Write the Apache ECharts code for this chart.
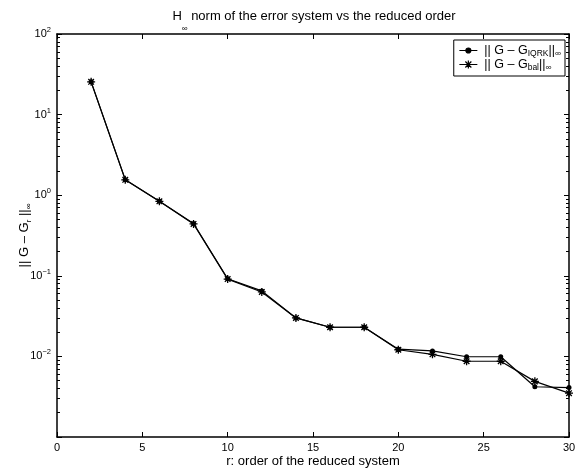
<!DOCTYPE html>
<html>
<head>
<meta charset="utf-8">
<script src="https://cdn.jsdelivr.net/npm/echarts@6/dist/echarts.min.js"></script>
<style>
html, body { margin: 0; padding: 0; background: #fff; }
#main { width: 579px; height: 470px; }
</style>
</head>
<body>
<div id="main"></div>
<script>
// reduced orders r
var orders = [2, 4, 6, 8, 10, 12, 14, 16, 18, 20, 22, 24, 26, 28, 30];
// ||G - G_IQRK||_inf
var normIQRK = [25.5, 1.56, 0.84, 0.445, 0.092, 0.065, 0.030, 0.023, 0.023, 0.0123, 0.0117, 0.0099, 0.0099, 0.0042, 0.0041];
// ||G - G_bal||_inf
var normBal = [25.5, 1.55, 0.84, 0.44, 0.091, 0.063, 0.030, 0.023, 0.023, 0.0121, 0.0106, 0.0087, 0.0087, 0.0049, 0.0035];

var decades = [0.001, 0.01, 0.1, 1, 10, 100];
var decadeLabels = [0.01, 0.1, 1, 10, 100];

// minor ticks 2..9 x 10^k
var minorTicks = [];
decades.slice(0, -1).forEach(function (d) {
    for (var k = 2; k <= 9; k++) minorTicks.push(d * k);
});

var FONT = 'Liberation Sans';
var frame = { show: true, lineStyle: { color: '#000', width: 1.5 } };
var starPath = 'path://M5,0L5,10M0,5L10,5M1.5,1.5L8.5,8.5M1.5,8.5L8.5,1.5';

function supLabel(v) {
    var e = Math.round(Math.log10(v));
    return '{b|10}{sup|' + (e < 0 ? '\u2212' + (-e) : e) + '}';
}

var legendText = {
    IQRK: '{t||| G \u2013 G}{sub|IQRK}{t|||}{sub|\u221e}',
    bal: '{t||| G \u2013 G}{sub|bal}{t|||}{sub|\u221e}'
};

function yAxisBase(pos, ticks, len, showLabel) {
    return {
        type: 'log',
        logBase: 10,
        min: 0.001,
        max: 100,
        position: pos,
        axisLine: len > 3 ? frame : { show: false },
        axisTick: { show: true, inside: true, length: len, customValues: ticks, lineStyle: { color: '#000', width: 1 } },
        splitLine: { show: false },
        axisLabel: showLabel ? {
            show: true,
            customValues: decadeLabels,
            margin: 6,
            fontFamily: FONT,
            color: '#000',
            formatter: supLabel,
            rich: {
                b: { fontSize: 11, fontFamily: FONT, color: '#000', lineHeight: 16 },
                sup: { fontSize: 7.5, fontFamily: FONT, color: '#000', verticalAlign: 'top', lineHeight: 7 }
            }
        } : { show: false }
    };
}

var leftMajor = yAxisBase('left', decades, 5, true);
leftMajor.name = '{t||| G \u2013 G}{sub|r}{t| ||}{sub|\u221e}';
leftMajor.nameLocation = 'middle';
leftMajor.nameGap = 24;
leftMajor.nameMoveOverlap = false;
leftMajor.nameTextStyle = {
    fontFamily: FONT,
    rich: {
        t: { fontSize: 13, fontFamily: FONT, color: '#000', lineHeight: 18 },
        sub: { fontSize: 8, fontFamily: FONT, color: '#000', verticalAlign: 'bottom', lineHeight: 8 }
    }
};

var option = {
    animation: false,
    backgroundColor: '#fff',
    title: {
        text: 'H{sub|\u221e} norm of the error system vs the reduced order',
        left: 309,
        textAlign: 'center',
        top: -5,
        textStyle: {
            fontFamily: FONT,
            fontWeight: 'normal',
            fontSize: 13,
            color: '#000',
            lineHeight: 33,
            rich: {
                sub: { fontSize: 8, fontFamily: FONT, color: '#000', verticalAlign: 'bottom', lineHeight: 8 }
            }
        }
    },
    legend: {
        orient: 'vertical',
        right: 14,
        top: 40,
        data: [{
            name: 'IQRK',
            icon: 'path://M0,4L18,4M6.5,4A2.5,2.5,0,1,1,11.5,4A2.5,2.5,0,1,1,6.5,4Z',
            itemStyle: { color: '#000', borderColor: '#000', borderWidth: 1.2 }
        }, {
            name: 'bal',
            icon: 'path://M0,4L18,4M9,0L9,8M5,4L13,4M6,1L12,7M6,7L12,1',
            itemStyle: { color: '#000', borderColor: '#000', borderWidth: 1.2 }
        }],
        itemWidth: 18,
        itemHeight: 8,
        itemGap: 0,
        padding: [4, 4, 4, 5],
        borderColor: '#000',
        borderWidth: 1,
        backgroundColor: '#fff',
        formatter: function (n) { return legendText[n]; },
        textStyle: {
            fontFamily: FONT,
            color: '#000',
            padding: [0, 0, 0, 2],
            rich: {
                t: { fontSize: 12.5, fontFamily: FONT, color: '#000', lineHeight: 15 },
                sub: { fontSize: 8.5, fontFamily: FONT, color: '#000', verticalAlign: 'bottom', lineHeight: 7 }
            }
        }
    },
    grid: { left: 57, right: 10, top: 34, bottom: 33, outerBoundsMode: 'none' },
    xAxis: [{
        type: 'value',
        min: 0,
        max: 30,
        interval: 5,
        position: 'bottom',
        name: 'r: order of the reduced system',
        nameLocation: 'middle',
        nameGap: 18,
        nameMoveOverlap: false,
        nameTextStyle: { fontFamily: FONT, fontSize: 13, color: '#000' },
        axisLine: frame,
        axisTick: { show: true, inside: true, length: 5, lineStyle: { color: '#000' } },
        axisLabel: { fontFamily: FONT, fontSize: 11, color: '#000', margin: 5 },
        splitLine: { show: false }
    }, {
        type: 'value',
        min: 0,
        max: 30,
        interval: 5,
        position: 'top',
        axisLine: frame,
        axisTick: { show: true, inside: true, length: 5, lineStyle: { color: '#000' } },
        axisLabel: { show: false },
        splitLine: { show: false }
    }],
    yAxis: [
        leftMajor,
        yAxisBase('left', minorTicks, 3, false),
        yAxisBase('right', decades, 5, false),
        yAxisBase('right', minorTicks, 3, false)
    ],
    series: [{
        name: 'IQRK',
        type: 'line',
        data: orders.map(function (r, i) { return [r, normIQRK[i]]; }),
        symbol: 'circle',
        symbolSize: 5,
        showAllSymbol: true,
        clip: false,
        lineStyle: { color: '#000', width: 1.2 },
        itemStyle: { color: '#000' },
        z: 3
    }, {
        name: 'bal',
        type: 'line',
        data: orders.map(function (r, i) { return [r, normBal[i]]; }),
        symbol: starPath,
        symbolSize: 8,
        showAllSymbol: true,
        clip: false,
        lineStyle: { color: '#000', width: 1.2 },
        itemStyle: { color: 'none', borderColor: '#000', borderWidth: 1.3 },
        z: 4
    }]
};

var chart = echarts.init(document.getElementById('main'));
chart.setOption(option);
window.addEventListener('resize', function () {
    chart.resize();
});
</script>
</body>
</html>
